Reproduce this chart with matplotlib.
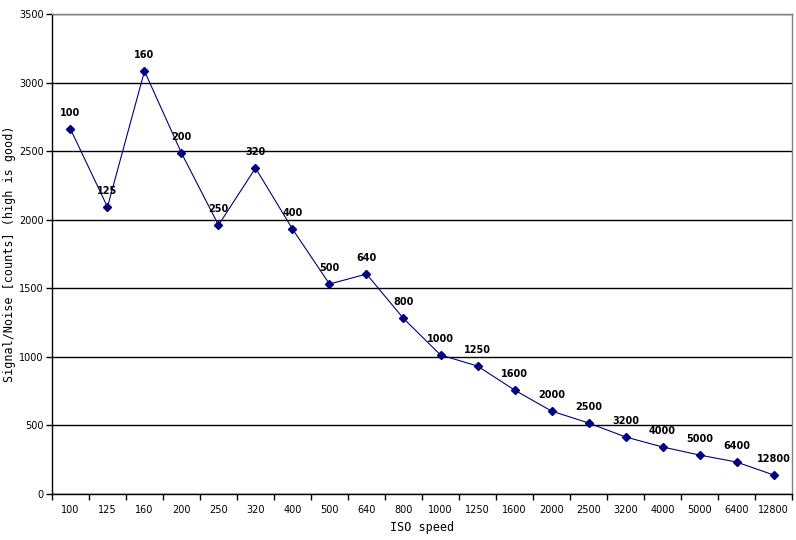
import matplotlib
matplotlib.use('Agg')
from matplotlib import pyplot as plt
from matplotlib.ticker import FixedLocator

iso_labels = ['100', '125', '160', '200', '250', '320', '400', '500', '640', '800',
              '1000', '1250', '1600', '2000', '2500', '3200', '4000', '5000', '6400', '12800']
snr = [2661, 2093, 3084, 2486, 1961, 2377, 1932, 1531, 1604, 1280,
       1014, 933, 758, 605, 518, 416, 343, 284, 233, 139]

fig = plt.figure(figsize=(7.96, 5.4), dpi=100)
ax = fig.add_axes([0.0653, 0.0852, 0.9297, 0.8888])

x = list(range(len(iso_labels)))
ax.plot(x, snr, color='#000080', lw=0.8, marker='D', markersize=3.8, zorder=3)

for xi, yi, lab in zip(x, snr, iso_labels):
    ax.annotate(lab, (xi, yi), xytext=(0, 11.5), textcoords='offset points',
                ha='center', va='center', fontsize=7, fontweight='bold', color='black')

ax.set_xlim(-0.5, len(iso_labels) - 0.5)
ax.set_ylim(0, 3500)
ax.set_yticks(range(0, 3501, 500))
ax.yaxis.grid(True, color='black', lw=1.0)
ax.set_axisbelow(True)

ax.set_xticks(x)
ax.set_xticklabels(iso_labels, fontsize=7)
ax.tick_params(axis='x', which='major', length=0, pad=8)
ax.xaxis.set_minor_locator(FixedLocator([i - 0.5 for i in range(len(iso_labels) + 1)]))
ax.tick_params(axis='x', which='minor', length=4, width=1, color='black')
ax.tick_params(axis='y', length=4, width=1, labelsize=7, pad=2)

for s in ['left', 'bottom']:
    ax.spines[s].set_color('black')
    ax.spines[s].set_linewidth(1)
for s in ['top', 'right']:
    ax.spines[s].set_color('#808080')
    ax.spines[s].set_linewidth(1)

ax.set_xlabel('ISO speed', fontsize=8.5, family='DejaVu Sans Mono', labelpad=4)
ax.set_ylabel('Signal/Noise [counts] (high is good)', fontsize=8.5,
              family='DejaVu Sans Mono')
ax.yaxis.set_label_coords(-0.048, 0.5)

plt.savefig('out.png', dpi=100)
